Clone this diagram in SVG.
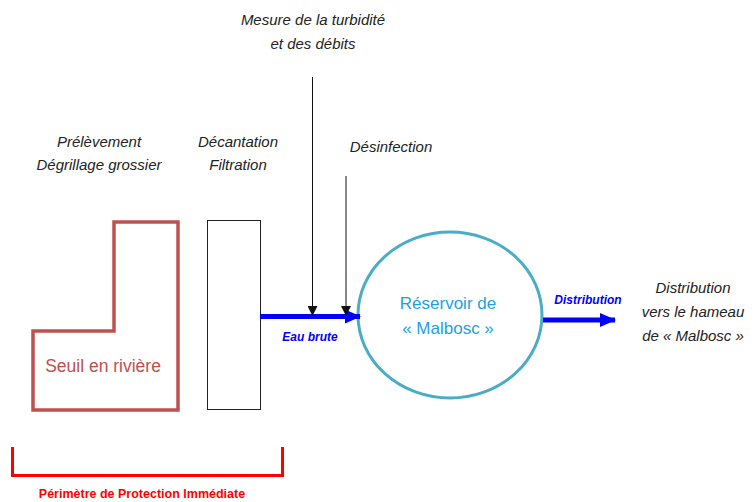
<svg xmlns="http://www.w3.org/2000/svg" width="755" height="502" viewBox="0 0 755 502">
<style>
.lbl{font-family:"Liberation Sans","Open Sans",sans-serif;font-style:italic;font-size:15px;fill:#222;text-anchor:middle}
.blue{font-family:"Liberation Sans",sans-serif;font-style:italic;font-weight:bold;font-size:12px;fill:#0000ff;text-anchor:middle}
</style>
<defs>
<marker id="ab" markerWidth="10" markerHeight="10" refX="9" refY="5" orient="auto" markerUnits="userSpaceOnUse"><path d="M0,0 L10,5 L0,10 Z" fill="#111"/></marker>
<marker id="bb" markerWidth="16" markerHeight="14" refX="15" refY="7" orient="auto" markerUnits="userSpaceOnUse"><path d="M0,0 L16,7 L0,14 Z" fill="#0000ff"/></marker>
</defs>
<rect width="755" height="502" fill="#fff"/>
<g id="seuil">
<path d="M33,331 H114 V222 H178 V410 H33 Z" fill="none" stroke="#c0504d" stroke-width="3.5"/>
<text x="103" y="372" style="font-family:'Liberation Sans',sans-serif;font-size:17.5px;fill:#c0504d;text-anchor:middle">Seuil en rivière</text>
</g>
<g id="filtre">
<rect x="207.5" y="220.5" width="53" height="189" fill="none" stroke="#222" stroke-width="1"/>
</g>
<g id="reservoir">
<ellipse cx="450" cy="315" rx="92" ry="83" fill="none" stroke="#4bacc6" stroke-width="3"/>
<text x="448" y="309" style="font-family:'Liberation Sans',sans-serif;font-size:17px;fill:#1e9fe0;text-anchor:middle">Réservoir de</text>
<text x="448" y="334" style="font-family:'Liberation Sans',sans-serif;font-size:17px;fill:#1e9fe0;text-anchor:middle">« Malbosc »</text>
</g>
<g id="labels">
<text class="lbl" x="99" y="147">Prélèvement</text>
<text class="lbl" x="99" y="170">Dégrillage grossier</text>
<text class="lbl" x="238" y="147">Décantation</text>
<text class="lbl" x="238" y="170">Filtration</text>
<text class="lbl" x="313" y="25">Mesure de la turbidité</text>
<text class="lbl" x="313" y="49">et des débits</text>
<text class="lbl" x="391" y="152">Désinfection</text>
<text class="lbl" x="693" y="293">Distribution</text>
<text class="lbl" x="693" y="317">vers le hameau</text>
<text class="lbl" x="693" y="341">de « Malbosc »</text>
</g>
<g id="perimetre">
<path d="M12.5,447 V475.5 H282.5 V447" fill="none" stroke="#ff0000" stroke-width="3"/>
<text x="142" y="498" style="font-family:'Liberation Sans',sans-serif;font-weight:bold;font-size:12.5px;fill:#ff0000;text-anchor:middle">Périmètre de Protection Immédiate</text>
</g>
<g id="connectors">
<line x1="260" y1="316.5" x2="360" y2="316.5" stroke="#0000ff" stroke-width="5" marker-end="url(#bb)"/>
<line x1="312.5" y1="77" x2="312.5" y2="315" stroke="#111" stroke-width="1" marker-end="url(#ab)"/>
<line x1="346" y1="176" x2="346" y2="315" stroke="#111" stroke-width="1" marker-end="url(#ab)"/>
<line x1="543" y1="320" x2="615" y2="320" stroke="#0000ff" stroke-width="5" marker-end="url(#bb)"/>
<text class="blue" x="310" y="341">Eau brute</text>
<text class="blue" x="588" y="304">Distribution</text>
</g>
</svg>
